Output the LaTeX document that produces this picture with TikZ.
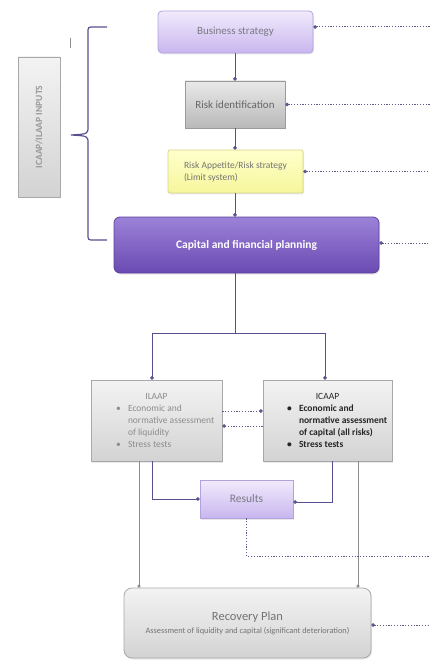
\documentclass[tikz,border=0pt]{standalone}
\usepackage{fontspec}
\setmainfont{Carlito}
\usetikzlibrary{arrows.meta,shadows}
\definecolor{lnc}{HTML}{55508F}
\definecolor{dotc}{HTML}{5A5A8C}
\definecolor{grayln}{HTML}{8C8C8C}
\definecolor{lavT}{HTML}{F1EBFC}
\definecolor{lavB}{HTML}{C8B6EF}
\definecolor{lavD}{HTML}{B3A1DD}
\definecolor{grT}{HTML}{E9E9E9}
\definecolor{grB}{HTML}{B9B9B9}
\definecolor{grD}{HTML}{9A9A9A}
\definecolor{ylT}{HTML}{FFFFCC}
\definecolor{ylB}{HTML}{F6F69C}
\definecolor{ylD}{HTML}{D6D68A}
\definecolor{puT}{HTML}{9C82D8}
\definecolor{puB}{HTML}{6A4AB2}
\definecolor{puD}{HTML}{5C409E}
\definecolor{lgT}{HTML}{F3F3F3}
\definecolor{lgB}{HTML}{D3D3D3}
\definecolor{lgD}{HTML}{A8A8A8}
\definecolor{txg}{HTML}{7A7A84}
\begin{document}
\begin{tikzpicture}[x=1pt,y=-1pt,
  box/.style={draw, line width=0.8pt, inner sep=0pt, align=center,
    drop shadow={opacity=0.18, shadow xshift=1pt, shadow yshift=-1.5pt}},
  lav/.style={box, top color=lavT, bottom color=lavB, draw=lavD, text=txg},
  grbox/.style={box, top color=grT, bottom color=grB, draw=grD, text=black!60},
  ylbox/.style={box, top color=ylT, bottom color=ylB, draw=ylD, text=black!55},
  pubox/.style={box, top color=puT, bottom color=puB, draw=puD, text=white},
  lgbox/.style={box, top color=lgT, bottom color=lgB, draw=lgD},
  conn/.style={draw=lnc, line width=0.9pt, -{Circle[length=3.5pt]}},
  plain/.style={draw=lnc, line width=0.9pt},
  gconn/.style={draw=grayln, line width=0.8pt, -{Circle[length=3pt]}},
  dotln/.style={draw=dotc, line width=1pt, dash pattern=on 1.2pt off 1.6pt},
  sdot/.style={dotln, {Circle[length=3.5pt]}-},
  edot/.style={dotln, -{Circle[length=3.5pt]}},
  brace/.style={draw=lnc, line width=1.2pt}
]
\useasboundingbox (0,0) rectangle (430,660);

% top boxes
\node[lav, rounded corners=4pt, minimum width=155pt, minimum height=42pt,
  font=\fontsize{11}{13}\selectfont] (bs) at (235.5,32) {Business strategy};
\node[grbox, minimum width=100pt, minimum height=47pt,
  font=\fontsize{11}{13}\selectfont] (ri) at (235,104.5) {Risk identification};
\node[ylbox, rounded corners=2pt, minimum width=135pt, minimum height=43pt, align=left,
  font=\fontsize{9.5}{12}\selectfont] (ra) at (235.5,171.5)
  {Risk Appetite/Risk strategy\\(Limit system)};
\node[pubox, rounded corners=6pt, minimum width=265pt, minimum height=56pt,
  font=\fontsize{11.5}{14}\selectfont\bfseries] (cfp) at (246.5,245)
  {Capital and financial planning};

% side label
\node[lgbox, minimum width=42pt, minimum height=140pt] (lbl) at (39,127) {};
\node[rotate=90, text=black!40, font=\fontsize{9.5}{11}\selectfont\bfseries] (lbltxt) at (lbl.center) {ICAAP/ILAAP INPUTS};
\draw[draw=black!45, line width=0.8pt] (70,38) -- (70,48);

% brace
\draw[brace] (107,27) -- (94,27) .. controls (88,27) .. (88,33) -- (88,127)
  .. controls (88,134) .. (71,135) .. controls (88,136) .. (88,143) -- (88,234)
  .. controls (88,240) .. (94,240) -- (107,240);

% ILAAP / ICAAP
\node[lgbox, minimum width=131pt, minimum height=81pt, text=black!45,
  font=\fontsize{9.5}{12}\selectfont] (ilaap) at (156.5,420.5)
  {\begin{minipage}{131pt}\centering ILAAP\par
   \leftskip=37pt\rightskip=0pt plus 1fil\parindent=0pt
   \leavevmode\llap{\makebox[12pt][l]{\textbullet}}Economic and\\normative assessment\\of liquidity\par
   \leavevmode\llap{\makebox[12pt][l]{\textbullet}}Stress tests\par\end{minipage}};
\node[lgbox, minimum width=129pt, minimum height=81pt, text=black!85,
  font=\fontsize{9.5}{12}\selectfont] (icaap) at (327.5,420.5)
  {\begin{minipage}{129pt}\centering ICAAP\par
   \leftskip=36pt\rightskip=0pt plus 1fil\parindent=0pt\bfseries
   \leavevmode\llap{\makebox[12pt][l]{\textbullet}}Economic and\\normative assessment\\of capital (all risks)\par
   \leavevmode\llap{\makebox[12pt][l]{\textbullet}}Stress tests\par\end{minipage}};

% results & recovery
\node[lav, minimum width=93pt, minimum height=38pt,
  font=\fontsize{11.5}{13}\selectfont] (res) at (246.5,499) {Results};
\node[lgbox, rounded corners=8pt, minimum width=247pt, minimum height=70pt, text=black!55]
  (rp) at (247.5,623)
  {{\fontsize{12.5}{14}\selectfont Recovery Plan}\\[1pt]
   {\fontsize{8.3}{10}\selectfont Assessment of liquidity and capital (significant deterioration)}};

% right edge coordinates
\coordinate (edge) at (430,0);
\coordinate (split) at (235,333);
\coordinate (resd) at (430,556);

% vertical chain
\draw[conn] (bs.south -| ri.north) -- (ri.north);
\draw[conn] (ri.south) -- (ri.south |- ra.north);
\draw[conn] (ra.south -| ri.south) -- (ri.south |- cfp.north);
\draw[plain] (ri.south |- cfp.south) -- (split);
\draw[conn] (split) -| ([xshift=-4.5pt]ilaap.north);
\draw[conn] (split) -| ([xshift=-2.5pt]icaap.north);

% to results
\draw[conn] ([xshift=-4.5pt]ilaap.south) |- (res.west);
\draw[conn] ([xshift=4.5pt]icaap.south) |- ([yshift=-3pt]res.east);

% to recovery
\draw[gconn] ([xshift=-17.5pt]ilaap.south) -- ([xshift=-17.5pt]ilaap.south |- rp.north);
\draw[gconn] ([xshift=30.5pt]icaap.south) -- ([xshift=30.5pt]icaap.south |- rp.north);

% dotted between ILAAP and ICAAP
\draw[edot] ([yshift=9.5pt]ilaap.east) -- ([yshift=9.5pt]icaap.west);
\draw[edot] ([yshift=-5.5pt]icaap.west) -- ([yshift=-5.5pt]ilaap.east);

% dotted to the right edge
\draw[sdot] ([yshift=5pt]bs.east) -- ([yshift=5pt]bs.east -| edge);
\draw[sdot] (ri.east) -- (ri.east -| edge);
\draw[sdot] (ra.east) -- (ra.east -| edge);
\draw[sdot] ([yshift=2pt]cfp.east) -- ([yshift=2pt]cfp.east -| edge);
\draw[dotln] (res.south) |- (resd);
\draw[sdot] ([yshift=-2pt]rp.east) -- ([yshift=-2pt]rp.east -| edge);
\end{tikzpicture}
\end{document}
